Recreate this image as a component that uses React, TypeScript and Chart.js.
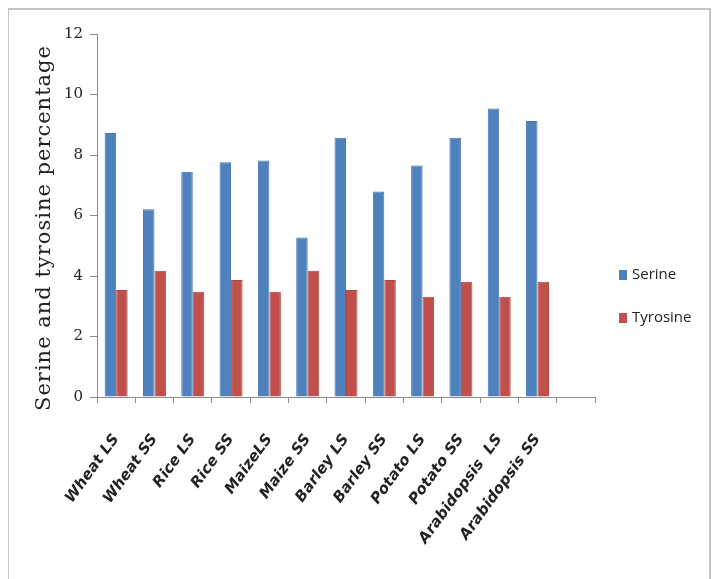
import React, { useEffect, useRef } from "react";
import { Chart, registerables } from "chart.js";

Chart.register(...registerables);

const categories = [
  "Wheat LS",
  "Wheat SS",
  "Rice LS",
  "Rice SS",
  "MaizeLS",
  "Maize SS",
  "Barley LS",
  "Barley SS",
  "Potato LS",
  "Potato SS",
  "Arabidopsis  LS",
  "Arabidopsis SS",
  "",
];
const serine = [8.73, 6.21, 7.45, 7.76, 7.82, 5.27, 8.57, 6.79, 7.65, 8.57, 9.54, 9.12, null];
const tyrosine = [3.54, 4.17, 3.48, 3.87, 3.48, 4.17, 3.54, 3.87, 3.31, 3.81, 3.31, 3.81, null];
const yTitle = "Serine and tyrosine percentage";

const customPlugin = {
  id: "customDecor",
  afterDraw(chart: any) {
    const ctx = chart.ctx;
    ctx.save();
    // y-axis title
    ctx.translate(36, 218);
    ctx.rotate(-Math.PI / 2);
    ctx.font = '21px "DejaVu Serif"';
    try {
      (ctx as any).letterSpacing = "1px";
    } catch (e) {}
    ctx.fillStyle = "#222";
    ctx.textAlign = "center";
    ctx.textBaseline = "middle";
    ctx.fillText(yTitle, 0, 0);
    ctx.restore();

    // legend
    ctx.save();
    const items = chart.data.datasets;
    const ys = [265, 308];
    items.forEach((ds: any, i: number) => {
      const y = ys[i];
      ctx.fillStyle = ds.backgroundColor;
      ctx.fillRect(610, y - 5, 8, 10);
      ctx.fillStyle = "#222";
      ctx.font = '15px "Open Sans"';
      ctx.textAlign = "left";
      ctx.textBaseline = "middle";
      ctx.fillText(ds.label, 623, y);
    });
    ctx.restore();
  },
};

export default function App() {
  const ref = useRef<HTMLCanvasElement>(null);
  useEffect(() => {
    if (!ref.current) return;
    const chart = new Chart(ref.current, {
      type: "bar",
      data: {
        labels: categories,
        datasets: [
          {
            label: "Serine",
            data: serine,
            backgroundColor: "#4F81BD",
            borderColor: "#4375B0",
            borderWidth: 1,
          },
          {
            label: "Tyrosine",
            data: tyrosine,
            backgroundColor: "#C0504D",
            borderColor: "#B24845",
            borderWidth: 1,
          },
        ],
      },
      options: {
        animation: false,
        responsive: false,
        maintainAspectRatio: false,
        layout: { padding: { top: 24, right: 114, bottom: 0, left: 0 } },
        plugins: {
          legend: { display: false },
          tooltip: { enabled: false },
        },
        datasets: {
          bar: { categoryPercentage: 0.6, barPercentage: 1.0 },
        },
        scales: {
          x: {
            offset: true,
            grid: {
              display: true,
              drawOnChartArea: false,
              drawTicks: true,
              tickLength: 6,
              color: "#8c8c8c",
              offset: true,
            },
            border: { color: "#8c8c8c", width: 1 },
            ticks: {
              autoSkip: false,
              minRotation: 54,
              maxRotation: 54,
              padding: 28,
              color: "#222",
              font: { family: "DejaVu Sans", size: 15, style: "italic", weight: "bold" },
            },
            afterFit: (scale: any) => {
              scale.height = 182;
            },
          },
          y: {
            min: 0,
            max: 12,
            ticks: {
              stepSize: 2,
              padding: 7,
              color: "#222",
              font: { family: "DejaVu Serif", size: 15 },
            },
            grid: {
              display: true,
              drawOnChartArea: false,
              drawTicks: true,
              tickLength: 7,
              color: "#8c8c8c",
            },
            border: { color: "#8c8c8c", width: 1 },
            afterFit: (scale: any) => {
              scale.width = 88;
            },
          },
        },
      },
      plugins: [customPlugin],
    });
    return () => chart.destroy();
  }, []);

  return (
    <div
      style={{
        border: "2px solid #c4c4c4",
        width: 700,
        height: 600,
        marginLeft: -1,
        boxSizing: "content-box",
        background: "#fff",
      }}
    >
      <canvas ref={ref} width={700} height={569} style={{ display: "block" }} />
    </div>
  );
}
